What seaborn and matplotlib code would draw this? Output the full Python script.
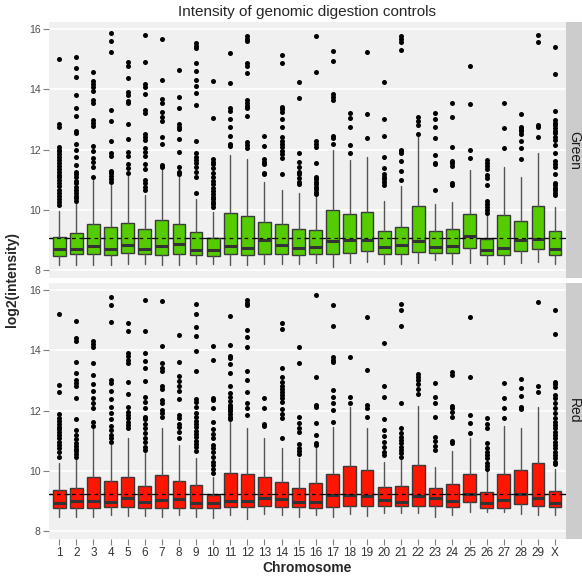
import numpy as np
import pandas as pd
import matplotlib
matplotlib.use('Agg')
import matplotlib.pyplot as plt
import seaborn as sns

chroms = [str(i) for i in range(1, 30)] + ['X']

# ---- Green channel box stats ----
green_lo = [8.17, 8.17, 8.17, 8.17, 8.22, 8.22, 8.17, 8.17, 8.22, 8.22,
            8.17, 8.17, 8.19, 8.19, 8.19, 8.25, 8.11, 8.25, 8.27, 8.22,
            8.19, 8.25, 8.33, 8.19, 8.25, 8.22, 8.22, 8.25, 8.28, 8.22]
green_q1 = [8.47, 8.52, 8.52, 8.49, 8.56, 8.52, 8.49, 8.52, 8.49, 8.47,
            8.52, 8.49, 8.53, 8.52, 8.50, 8.53, 8.52, 8.58, 8.62, 8.53,
            8.53, 8.59, 8.58, 8.56, 8.74, 8.49, 8.49, 8.64, 8.69, 8.50]
green_med = [8.70, 8.70, 8.79, 8.71, 8.83, 8.70, 8.80, 8.87, 8.67, 8.67,
             8.79, 8.74, 8.99, 8.85, 8.75, 8.78, 8.98, 9.01, 8.99, 8.77,
             8.83, 8.98, 8.77, 8.80, 9.14, 8.67, 8.75, 8.99, 9.02, 8.71]
green_q3 = [9.11, 9.22, 9.53, 9.44, 9.58, 9.36, 9.66, 9.54, 9.27, 9.05,
            9.88, 9.81, 9.60, 9.53, 9.35, 9.32, 9.98, 9.86, 9.92, 9.31,
            9.44, 10.13, 9.29, 9.37, 9.86, 9.03, 9.83, 9.62, 10.14, 9.29]
green_hi = [9.96, 10.24, 10.99, 10.82, 11.15, 10.49, 11.32, 11.08, 10.35, 9.92,
            11.82, 11.69, 10.93, 10.66, 10.55, 10.41, 11.98, 11.65, 11.76, 10.29,
            10.79, 12.45, 10.20, 10.27, 11.32, 9.80, 11.43, 11.10, 11.87, 10.10]
green_out = [
    [15.0, 12.85, 12.75, 12.1, 12.0, 11.95, 11.85, 11.75, 11.65, 11.55, 11.45, 11.35,
     11.25, 11.15, 11.1, 11.0, 10.9, 10.8, 10.65, 10.55, 10.45, 10.35, 10.25, 10.15],
    [15.08, 14.7, 14.4, 13.8, 13.38, 13.11, 12.61, 12.56, 12.2, 11.98, 11.74, 11.49,
     11.27, 11.18, 11.08, 10.97, 10.88, 10.77, 10.66, 10.57, 10.47, 10.38, 10.3],
    [14.56, 14.27, 14.17, 14.06, 13.95, 13.64, 13.56, 12.98, 12.88, 12.78, 12.12,
     11.96, 11.71, 11.6, 11.42, 11.1],
    [15.86, 15.6, 15.25, 13.3, 12.95, 12.28, 11.9, 11.79, 11.3, 11.21, 11.12, 11.01, 10.91],
    [14.9, 14.77, 14.37, 13.92, 13.81, 13.62, 13.53, 12.84, 12.36, 11.92, 11.79,
     11.51, 11.38, 11.23],
    [15.8, 14.89, 14.16, 14.09, 13.83, 13.31, 13.22, 12.5, 12.4, 12.32, 12.06, 11.93,
     11.79, 11.51, 11.35, 10.99, 10.88, 10.77, 10.66],
    [15.66, 14.29, 13.69, 13.56, 13.25, 13.09, 12.96, 12.4, 12.18, 11.49, 11.43],
    [14.65, 13.73, 13.38, 12.84, 12.76, 12.67, 12.35, 11.92, 11.43, 11.27, 11.18],
    [15.52, 15.45, 15.37, 14.88, 14.61, 14.32, 14.12, 13.89, 13.47, 12.29, 11.87,
     11.76, 11.65, 11.54, 11.41, 11.27, 11.08, 10.56],
    [14.27, 13.04, 11.67, 11.6, 11.52, 11.38, 11.23, 11.1, 10.97, 10.85, 10.71,
     10.62, 10.54, 10.44, 10.35, 10.27, 10.19, 10.1],
    [15.2, 14.22, 13.38, 13.29, 13.02, 12.74, 12.46, 12.18, 12.12],
    [15.75, 15.66, 15.59, 14.86, 14.77, 14.55, 13.64, 13.56, 13.44, 13.38, 13.11,
     12.26, 12.14, 12.06],
    [12.44, 12.13, 11.7, 11.6, 11.51, 11.21, 11.18],
    [15.12, 14.88, 13.42, 13.33, 13.25, 13.01, 12.74, 12.4, 12.29, 12.18, 12.07,
     11.96, 11.84, 11.73, 11.2],
    [14.24, 13.72, 11.9, 11.58, 11.43, 11.27, 11.18, 11.07, 10.91, 10.85],
    [15.78, 14.56, 12.29, 12.2, 12.1, 11.56, 11.1, 11.02, 10.94, 10.86, 10.77,
     10.68, 10.59, 10.51],
    [15.26, 14.94, 13.84, 13.75, 13.64, 12.45, 12.37, 12.2],
    [13.21, 13.04, 12.75, 12.14, 11.87],
    [15.25, 13.18, 12.38],
    [14.23, 13.0, 12.44, 11.76, 11.39, 11.2, 11.1, 11.01, 10.92, 10.81],
    [15.77, 15.68, 15.58, 15.31, 12.0, 11.94, 11.87, 11.62, 11.3, 10.99],
    [13.08, 12.96, 12.83, 12.52],
    [13.21, 13.01, 12.75, 12.37, 11.83, 11.56, 11.51, 10.66],
    [13.53, 13.09, 12.1, 11.63, 11.54, 11.46, 10.88, 10.82],
    [14.77, 13.5, 11.98, 11.73],
    [11.65, 11.56, 11.45, 11.34, 11.15, 11.04, 10.83, 10.29, 10.2, 10.1, 10.0, 9.9],
    [13.53, 12.7, 12.05],
    [13.17, 12.76, 12.69, 12.63, 12.5, 12.27, 12.05, 11.67],
    [15.79, 15.57, 12.81, 12.74, 12.43],
    [15.39, 14.5, 13.29, 12.98, 12.89, 12.8, 12.71, 12.63, 12.54, 12.43, 12.32,
     12.14, 11.87, 11.63, 11.52, 11.41, 11.19, 10.9, 10.81, 10.73, 10.66, 10.57, 10.48],
]

# ---- Red channel box stats ----
red_lo = [8.48, 8.48, 8.46, 8.54, 8.51, 8.51, 8.48, 8.52, 8.48, 8.45,
          8.54, 8.41, 8.56, 8.54, 8.48, 8.54, 8.46, 8.57, 8.51, 8.59,
          8.59, 8.59, 8.46, 8.54, 8.63, 8.62, 8.62, 8.56, 8.54, 8.54]
red_q1 = [8.76, 8.78, 8.78, 8.79, 8.81, 8.76, 8.77, 8.78, 8.77, 8.78,
          8.80, 8.79, 8.84, 8.80, 8.79, 8.77, 8.80, 8.83, 8.85, 8.85,
          8.83, 8.85, 8.84, 8.80, 8.98, 8.77, 8.77, 8.91, 8.85, 8.79]
red_med = [8.94, 8.99, 9.01, 8.98, 9.09, 8.96, 9.04, 9.07, 8.94, 8.92,
           9.00, 9.01, 9.11, 9.06, 8.98, 8.98, 9.19, 9.19, 9.17, 9.04,
           8.98, 9.17, 9.09, 8.99, 9.22, 8.94, 9.04, 9.23, 9.11, 8.94]
red_q3 = [9.37, 9.44, 9.79, 9.66, 9.81, 9.51, 9.85, 9.66, 9.52, 9.20,
          9.94, 9.88, 9.80, 9.64, 9.44, 9.60, 9.90, 10.16, 10.02, 9.48,
          9.50, 10.21, 9.42, 9.58, 9.89, 9.30, 9.89, 10.04, 10.25, 9.34]
red_hi = [10.25, 10.53, 11.39, 10.86, 11.08, 10.58, 11.41, 10.86, 10.44, 9.80,
          11.63, 11.41, 11.08, 10.77, 10.42, 10.77, 11.46, 12.13, 11.41, 10.30,
          10.42, 12.16, 10.14, 10.66, 11.10, 9.96, 11.49, 11.43, 12.11, 10.06]
red_out = [
    [15.21, 12.84, 12.62, 11.87, 11.76, 11.66, 11.57, 11.46, 11.38, 11.28, 11.18,
     11.08, 10.97, 10.86, 10.75, 10.64, 10.45],
    [14.98, 14.39, 14.3, 13.6, 13.23, 13.01, 12.92, 12.82, 12.41, 11.71, 11.35,
     11.19, 11.04, 10.93, 10.82, 10.74, 10.66, 10.56, 10.47],
    [14.31, 14.21, 14.1, 13.58, 13.17, 12.88, 12.66, 12.43, 12.24, 12.1, 11.62, 11.49],
    [15.77, 15.51, 14.94, 13.01, 12.93, 12.66, 12.37, 12.13, 11.91, 11.72, 11.5,
     11.35, 11.19, 11.08, 10.97],
    [14.92, 14.63, 13.92, 13.81, 13.69, 13.59, 12.95, 12.56, 12.13, 11.96, 11.85,
     11.74, 11.63, 11.52, 11.41],
    [15.66, 14.63, 13.92, 13.65, 13.42, 12.98, 12.46, 12.29, 12.09, 11.79, 11.71,
     11.57, 11.41, 11.24, 11.08, 10.97, 10.8, 10.69],
    [15.62, 14.13, 13.58, 13.42, 13.31, 12.81, 12.7, 12.35, 12.26, 12.02, 11.91, 11.79],
    [14.52, 13.62, 13.15, 12.99, 12.81, 12.66, 12.38, 11.86, 11.74, 11.57, 11.46,
     11.28, 11.1],
    [15.53, 15.19, 14.77, 14.47, 13.99, 13.32, 12.38, 12.29, 12.13, 11.91, 11.77,
     11.66, 11.55, 11.44, 11.33, 11.22, 11.11, 11.0, 10.89, 10.78, 10.67],
    [14.15, 13.66, 12.42, 12.35, 12.09, 11.61, 11.38, 11.21, 11.08, 10.86, 10.75,
     10.64, 10.47, 10.3, 10.19, 10.06, 9.92],
    [15.14, 14.19, 13.81, 13.73, 13.53, 13.26, 12.82, 12.59, 12.46, 12.32, 12.2,
     12.13, 12.04, 11.97, 11.87, 11.79, 11.71],
    [15.67, 15.58, 15.5, 14.68, 14.43, 14.12, 13.32, 13.0, 12.61, 12.24, 12.09, 11.85],
    [12.41, 12.1, 11.57, 11.49],
    [14.89, 14.7, 13.4, 13.12, 12.95, 12.81, 12.71, 12.62, 12.51, 12.4, 12.29,
     12.04, 11.87, 11.74, 11.1],
    [14.12, 13.59, 11.79, 11.6, 11.43, 11.28, 10.88, 10.77, 10.66, 10.55],
    [15.83, 13.1, 12.18, 12.13, 11.6, 11.19, 10.92, 10.86],
    [15.51, 14.82, 13.76, 13.68, 13.6, 12.68, 12.46, 12.26, 12.02, 11.61],
    [13.78, 12.46, 12.24],
    [15.11, 13.34, 12.18, 12.1, 11.77],
    [14.23, 12.82, 12.46, 11.72, 11.35, 11.15, 10.97, 10.8, 10.64, 10.53],
    [15.55, 15.35, 14.82, 12.26, 11.41, 11.24, 11.13, 11.02, 10.91, 10.8, 10.69,
     10.58, 10.47],
    [13.2, 13.11, 13.01, 12.87, 12.73, 12.55],
    [12.92, 12.46, 12.24, 11.77, 11.11, 10.99, 10.83, 10.68],
    [13.28, 13.17, 12.16, 12.07, 11.96, 11.78, 10.99, 10.91],
    [15.11, 13.12, 11.85, 11.6, 11.24],
    [11.76, 11.54, 11.43, 10.93, 10.75, 10.64, 10.53, 10.42, 10.25, 10.17, 10.06],
    [12.92, 12.41, 12.07, 11.74],
    [13.05, 12.76, 12.48, 12.13, 12.04],
    [15.6, 12.82, 12.62],
    [15.34, 14.55, 12.95, 12.88, 12.79, 12.51, 12.4, 12.24, 12.07, 11.91, 11.76,
     11.63, 11.52, 11.41, 11.3, 11.19, 11.08, 10.97, 10.86, 10.75, 10.64, 10.53,
     10.42, 10.31, 10.22],
]

ref_level = {'Green': 9.06, 'Red': 9.22}
fill = {'Green': '#55CC00', 'Red': '#FF1500'}

channels = {
    'Green': (green_lo, green_q1, green_med, green_q3, green_hi, green_out),
    'Red': (red_lo, red_q1, red_med, red_q3, red_hi, red_out),
}

sns.set_style('darkgrid', {'axes.facecolor': '#F0F0F0', 'grid.color': 'white'})
plt.rcParams['font.family'] = ['Liberation Sans', 'DejaVu Sans']

fig = plt.figure(figsize=(5.82, 5.83), dpi=100)
L, R = 49 / 582, 566 / 582
panels = {'Green': (1 - 278 / 583, 1 - 22 / 583), 'Red': (1 - 539 / 583, 1 - 283 / 583)}

for name, (lo, q1, med, q3, hi, outs) in channels.items():
    bot, top = panels[name]
    ax = fig.add_axes([L, bot, R - L, top - bot])

    stats = []
    for i in range(len(chroms)):
        stats.append(dict(whislo=lo[i], q1=q1[i], med=med[i], q3=q3[i],
                          whishi=hi[i], fliers=[]))

    ax.axhline(ref_level[name], color='black', lw=0.9, zorder=1.5)
    ax.bxp(stats, positions=range(len(chroms)), widths=0.75, patch_artist=True,
           showcaps=False, showfliers=False,
           boxprops=dict(facecolor=fill[name], edgecolor='#3a3a3a', lw=1.0),
           medianprops=dict(color='#333333', lw=2.2),
           whiskerprops=dict(color='#555555', lw=1.0))
    ax.axhline(ref_level[name], color='black', lw=0.9, ls=(0, (3, 3)), zorder=4)

    flier_df = pd.DataFrame([(i, v) for i, vals in enumerate(outs) for v in vals],
                            columns=['pos', 'value'])
    sns.scatterplot(data=flier_df, x='pos', y='value', color='black', s=13,
                    linewidth=0, ax=ax, zorder=5)

    ax.set_xlim(-0.6, 29.64)
    ax.set_ylim(7.74, 16.23)
    ax.set_yticks([8, 10, 12, 14, 16])
    ax.set_xticks(range(len(chroms)))
    ax.grid(axis='x', visible=False)
    ax.grid(axis='y', color='white', lw=1.2)
    ax.set_xlabel('')
    ax.set_ylabel('')
    ax.tick_params(axis='y', left=True, length=4, color='#7f7f7f', width=0.8,
                   labelsize=7.5, labelcolor='#4d4d4d', pad=2)
    if name == 'Red':
        ax.set_xticklabels(chroms)
        ax.tick_params(axis='x', bottom=True, length=4, color='#7f7f7f', width=0.8,
                       labelsize=8.5, labelcolor='#333333', pad=2)
    else:
        ax.set_xticklabels([])
        ax.tick_params(axis='x', bottom=False)
    for sp in ax.spines.values():
        sp.set_visible(False)

    # facet strip on the right
    sax = fig.add_axes([R, bot, 1 - R, top - bot])
    sax.set_facecolor('#CCCCCC')
    sax.set_xticks([])
    sax.set_yticks([])
    sax.grid(False)
    for sp in sax.spines.values():
        sp.set_visible(False)
    sax.text(0.5, 0.5, name, rotation=-90, ha='center', va='center',
             fontsize=10, color='#1a1a1a', transform=sax.transAxes)

fig.text((L + R) / 2, 1 - 12 / 583, 'Intensity of genomic digestion controls',
         ha='center', va='center', fontsize=11)
fig.text((L + R) / 2, 1 - 568 / 583, 'Chromosome', ha='center', va='center',
         fontsize=10, fontweight='bold')
fig.text(12 / 582, 1 - 280 / 583, 'log2(intensity)', ha='center', va='center',
         rotation=90, fontsize=10, fontweight='bold')

fig.savefig('out.png', dpi=100)
